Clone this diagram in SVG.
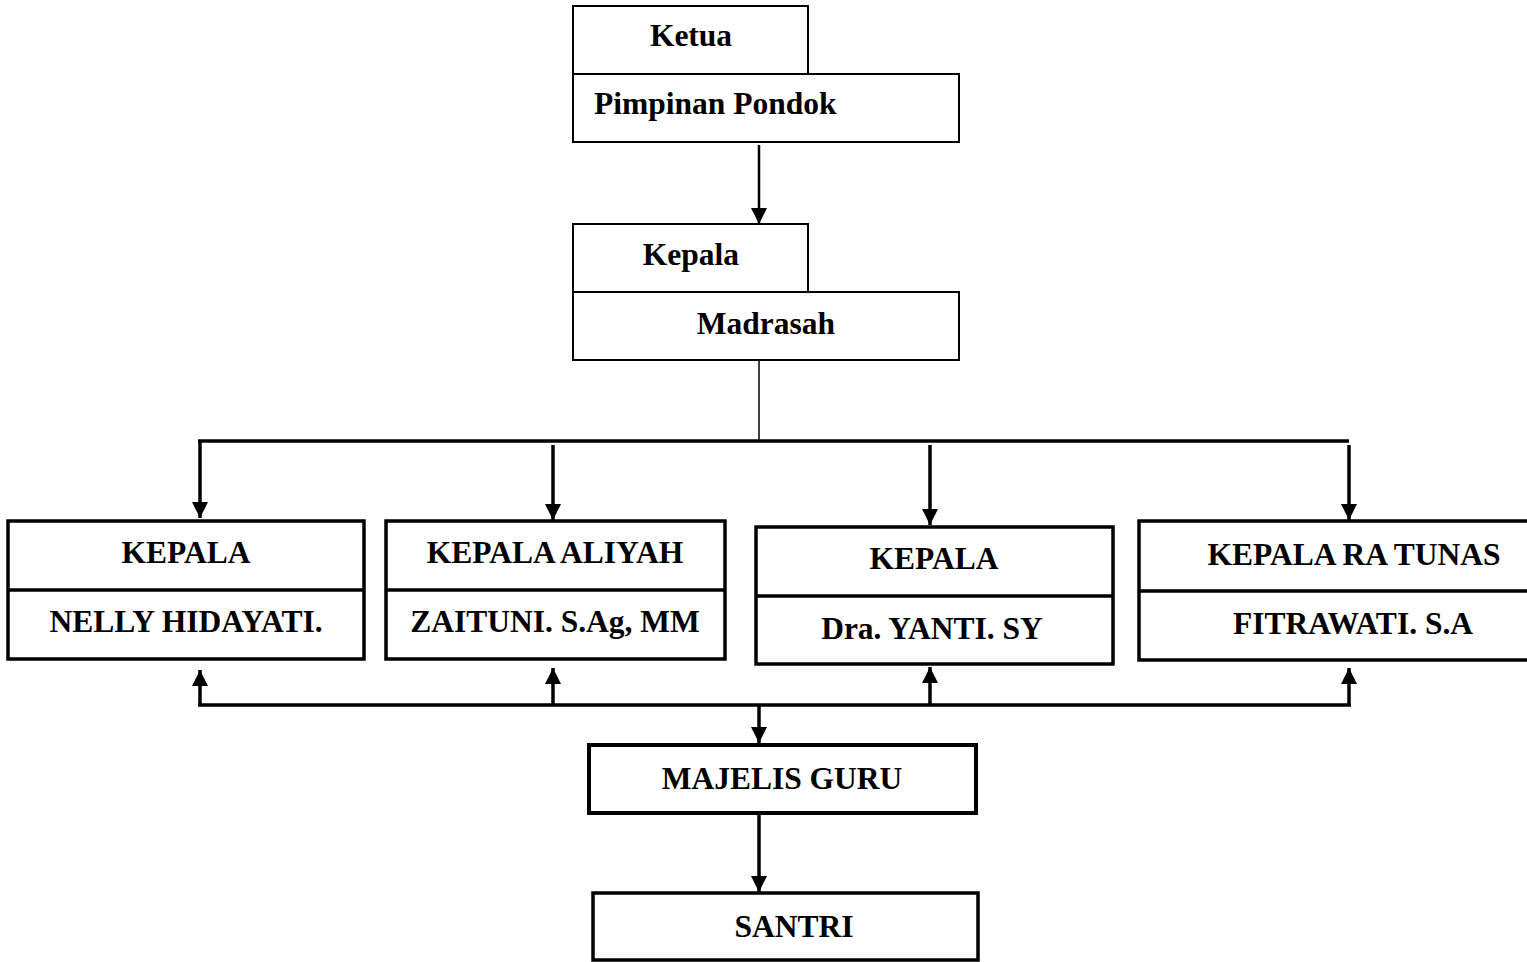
<svg xmlns="http://www.w3.org/2000/svg" width="1527" height="962" viewBox="0 0 1527 962">
<style>
.bx{fill:#fff;stroke:#000}
.t{font-family:"Liberation Serif","Times New Roman",serif;font-weight:bold;font-size:31.5px;fill:#000}
.c{text-anchor:middle}
.ln{fill:none;stroke:#000}
</style>
<defs>
<marker id="ah" markerUnits="userSpaceOnUse" markerWidth="16" markerHeight="18" refX="16" refY="8" orient="auto" viewBox="0 0 16 16">
<path d="M0,0 L16,8 L0,16 Z" fill="#000"/>
</marker>
</defs>
<rect width="1527" height="962" fill="#fff"/>
<g id="ketua">
<rect class="bx" x="573" y="6" width="235" height="68" stroke-width="2"/>
<text class="t c" x="691" y="46">Ketua</text>
</g>
<g id="pimpinan">
<rect class="bx" x="573" y="74" width="386" height="68" stroke-width="2"/>
<text class="t" x="594" y="114">Pimpinan Pondok</text>
</g>
<g id="kepala">
<rect class="bx" x="573" y="224" width="235" height="68" stroke-width="2"/>
<text class="t c" x="691" y="265">Kepala</text>
</g>
<g id="madrasah">
<rect class="bx" x="573" y="292" width="386" height="68" stroke-width="2"/>
<text class="t c" x="766" y="334">Madrasah</text>
</g>
<g id="pesantren">
<rect class="bx" x="8" y="521" width="356" height="138" stroke-width="3.5"/>
<line class="ln" x1="8" y1="590" x2="364" y2="590" stroke-width="3.5"/>
<text class="t c" x="186" y="563">KEPALA</text>
<text class="t c" x="186" y="632">NELLY HIDAYATI.</text>
</g>
<g id="aliyah">
<rect class="bx" x="386" y="521" width="339" height="138" stroke-width="3.5"/>
<line class="ln" x1="386" y1="590" x2="725" y2="590" stroke-width="3.5"/>
<text class="t c" x="555" y="563">KEPALA ALIYAH</text>
<text class="t c" x="555" y="632">ZAITUNI. S.Ag, MM</text>
</g>
<g id="tsanawiyah">
<rect class="bx" x="756" y="527" width="357" height="137" stroke-width="3.5"/>
<line class="ln" x1="756" y1="596" x2="1113" y2="596" stroke-width="3.5"/>
<text class="t c" x="934" y="569">KEPALA</text>
<text class="t c" x="932" y="639">Dra. YANTI. SY</text>
</g>
<g id="ra">
<rect class="bx" x="1139" y="521" width="400" height="139" stroke-width="3.5"/>
<line class="ln" x1="1139" y1="591" x2="1527" y2="591" stroke-width="3.5"/>
<text class="t c" x="1354" y="565">KEPALA RA TUNAS</text>
<text class="t c" x="1353" y="634">FITRAWATI. S.A</text>
</g>
<g id="majelis">
<rect class="bx" x="589" y="745" width="387" height="68" stroke-width="4"/>
<text class="t c" x="782" y="789">MAJELIS GURU</text>
</g>
<g id="santri">
<rect class="bx" x="593" y="893" width="385" height="67" stroke-width="3.5"/>
<text class="t c" x="794" y="937">SANTRI</text>
</g>
<g id="connectors">
<line class="ln" x1="759" y1="145" x2="759" y2="224" stroke-width="2.5" marker-end="url(#ah)"/>
<line class="ln" x1="759" y1="360" x2="759" y2="441" stroke-width="1.5"/>
<line class="ln" x1="198" y1="441" x2="1349" y2="441" stroke-width="3.5"/>
<line class="ln" x1="200" y1="441" x2="200" y2="518" stroke-width="3.5" marker-end="url(#ah)"/>
<line class="ln" x1="553" y1="445" x2="553" y2="520" stroke-width="3.5" marker-end="url(#ah)"/>
<line class="ln" x1="930" y1="445" x2="930" y2="525" stroke-width="3.5" marker-end="url(#ah)"/>
<line class="ln" x1="1349" y1="445" x2="1349" y2="520" stroke-width="3.5" marker-end="url(#ah)"/>
<line class="ln" x1="198" y1="705" x2="1351" y2="705" stroke-width="3.5"/>
<line class="ln" x1="200" y1="705" x2="200" y2="670" stroke-width="3.5" marker-end="url(#ah)"/>
<line class="ln" x1="553" y1="705" x2="553" y2="668" stroke-width="3.5" marker-end="url(#ah)"/>
<line class="ln" x1="930" y1="705" x2="930" y2="667" stroke-width="3.5" marker-end="url(#ah)"/>
<line class="ln" x1="1349" y1="705" x2="1349" y2="668" stroke-width="3.5" marker-end="url(#ah)"/>
<line class="ln" x1="759" y1="705" x2="759" y2="743" stroke-width="3.5" marker-end="url(#ah)"/>
<line class="ln" x1="759" y1="813" x2="759" y2="892" stroke-width="3.5" marker-end="url(#ah)"/>
</g>
</svg>
